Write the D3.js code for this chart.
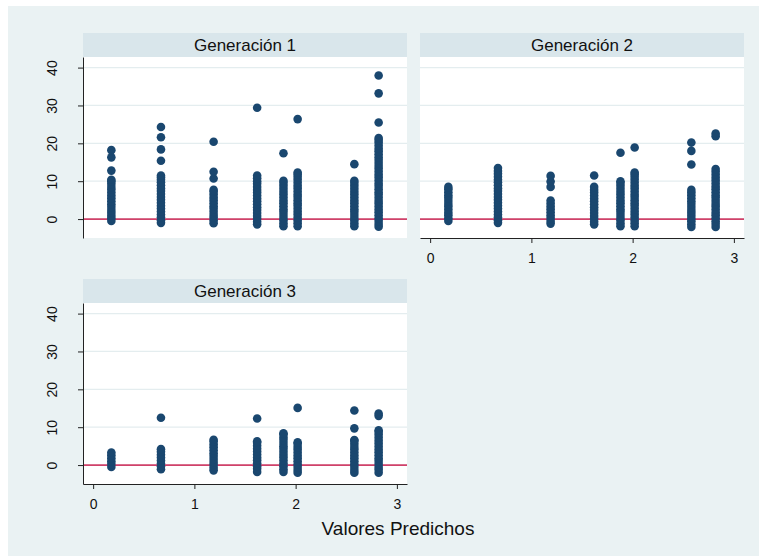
<!DOCTYPE html>
<html>
<head>
<meta charset="utf-8">
<script src="https://cdn.jsdelivr.net/npm/d3@7"></script>
<style>
  body { margin: 0; background: #fff; }
  svg { display: block; font-family: Arial, "Liberation Sans", sans-serif; }
  .axis path, .axis line { stroke: #222; }
  .axis text { fill: #111; font-size: 14px; font-family: Arial, "Liberation Sans", sans-serif; }
</style>
</head>
<body>
<div id="chart"></div>
<script>
// Predicted values (x columns) shared by every generation
const xCols = [0.18, 0.67, 1.19, 1.62, 1.88, 2.02, 2.58, 2.82]

// Residuals, one list per x column
const gen1 = [
  [-0.5, 0.2, 0.9, 1.7, 2.4, 3.2, 3.9, 4.7, 5.5, 6.2, 7.0, 7.8, 8.5, 9.3, 10.0, 10.4, 12.8, 16.3, 18.2],
  [-1.0, -0.3, 0.5, 1.2, 2.0, 2.8, 3.5, 4.3, 5.1, 5.8, 6.6, 7.4, 8.1, 8.9, 9.7, 10.4, 11.0, 11.5, 15.4, 18.4, 21.6, 24.3],
  [-1.1, -0.4, 0.4, 1.1, 1.9, 2.7, 3.4, 4.2, 5.0, 5.7, 6.5, 7.2, 7.7, 10.7, 12.5, 20.4],
  [-1.4, -0.7, 0.1, 0.8, 1.6, 2.4, 3.1, 3.9, 4.7, 5.4, 6.2, 7.0, 7.7, 8.5, 9.3, 10.0, 10.8, 11.5, 29.4],
  [-1.9, -1.2, -0.4, 0.3, 1.1, 1.9, 2.6, 3.4, 4.2, 4.9, 5.7, 6.5, 7.2, 8.0, 8.8, 9.5, 10.1, 17.4],
  [-1.9, -1.1, -0.4, 0.4, 1.2, 1.9, 2.7, 3.5, 4.2, 5.0, 5.8, 6.5, 7.3, 8.1, 8.8, 9.6, 10.4, 11.1, 11.8, 12.3, 26.4],
  [-1.9, -1.2, -0.4, 0.3, 1.1, 1.9, 2.6, 3.4, 4.2, 4.9, 5.7, 6.5, 7.2, 8.0, 8.8, 9.5, 10.1, 14.5],
  [-2.0, -1.3, -0.5, 0.2, 1.0, 1.8, 2.5, 3.3, 4.1, 4.8, 5.6, 6.4, 7.1, 7.9, 8.7, 9.4, 10.2, 11.0, 11.7, 12.5, 13.3, 14.0, 14.8, 15.6, 16.3, 17.1, 17.9, 18.6, 19.4, 20.2, 20.9, 21.4, 25.5, 33.2, 37.9]
]

const gen2 = [
  [-0.5, 0.2, 1.0, 1.7, 2.5, 3.3, 4.0, 4.8, 5.6, 6.3, 7.1, 7.9, 8.5],
  [-1.0, -0.3, 0.5, 1.2, 2.0, 2.8, 3.5, 4.3, 5.1, 5.8, 6.6, 7.4, 8.1, 8.9, 9.7, 10.4, 11.2, 12.0, 12.7, 13.5],
  [-1.2, -0.5, 0.3, 1.0, 1.8, 2.6, 3.3, 4.1, 4.9, 8.5, 9.9, 11.4],
  [-1.4, -0.7, 0.1, 0.8, 1.6, 2.4, 3.1, 3.9, 4.7, 5.4, 6.2, 7.0, 7.7, 8.5, 11.5],
  [-1.9, -1.2, -0.4, 0.3, 1.1, 1.9, 2.6, 3.4, 4.2, 4.9, 5.7, 6.5, 7.2, 8.0, 8.8, 9.5, 10.0, 17.5],
  [-1.9, -1.1, -0.4, 0.4, 1.2, 1.9, 2.7, 3.5, 4.2, 5.0, 5.8, 6.5, 7.3, 8.1, 8.8, 9.6, 10.4, 11.1, 11.8, 12.3, 18.9],
  [-2.1, -1.4, -0.6, 0.1, 0.9, 1.7, 2.4, 3.2, 4.0, 4.7, 5.5, 6.3, 7.0, 7.7, 14.4, 18.0, 20.2],
  [-2.1, -1.3, -0.6, 0.2, 1.0, 1.7, 2.5, 3.3, 4.0, 4.8, 5.6, 6.3, 7.1, 7.9, 8.6, 9.4, 10.2, 10.9, 11.7, 12.5, 13.2, 21.9, 22.6]
]

const gen3 = [
  [-0.5, 0.3, 1.0, 1.8, 2.6, 3.3],
  [-1.1, -0.3, 0.4, 1.2, 2.0, 2.7, 3.5, 4.2, 12.5],
  [-1.4, -0.7, 0.1, 0.8, 1.6, 2.4, 3.1, 3.9, 4.7, 5.4, 6.2, 6.7],
  [-1.8, -1.0, -0.3, 0.5, 1.3, 2.0, 2.8, 3.6, 4.3, 5.1, 5.9, 6.3, 12.3],
  [-1.8, -1.1, -0.3, 0.4, 1.2, 2.0, 2.7, 3.5, 4.3, 5.0, 5.8, 6.6, 7.3, 8.1, 8.4],
  [-2.0, -1.3, -0.5, 0.2, 1.0, 1.8, 2.5, 3.3, 4.1, 4.8, 5.6, 6.0, 15.1],
  [-2.0, -1.3, -0.5, 0.2, 1.0, 1.8, 2.5, 3.3, 4.1, 4.8, 5.6, 6.4, 6.6, 9.7, 14.4],
  [-2.0, -1.2, -0.5, 0.3, 1.1, 1.8, 2.6, 3.4, 4.1, 4.9, 5.7, 6.4, 7.2, 8.0, 8.7, 9.2, 13.0, 13.6]
]

const panelTitles = ['Generación 1', 'Generación 2', 'Generación 3']
const yTicks = [0, 10, 20, 30, 40]
const xTicks = [0, 1, 2, 3]
const xTitle = 'Valores Predichos'

const width = 759
const height = 556

const svg = d3.select('#chart').append('svg')
  .attr('width', width)
  .attr('height', height)

// Stata-like graph region
svg.append('rect')
  .attr('x', 8).attr('y', 6)
  .attr('width', width - 8).attr('height', height - 6)
  .attr('fill', '#eaf2f3')

// Panel placement (left, top of header) and which axes each one gets
const panels = [
  { title: panelTitles[0], data: gen1, left: 83, top: 33, showY: true, showX: false },
  { title: panelTitles[1], data: gen2, left: 420, top: 33, showY: false, showX: true },
  { title: panelTitles[2], data: gen3, left: 83, top: 279, showY: true, showX: true }
]
const pw = 324
const headerH = 24
const ph = 181

panels.forEach(p => {
  const top = p.top + headerH
  const x = d3.scaleLinear().domain([-0.1, 3.1]).range([p.left, p.left + pw])
  const y = d3.scaleLinear().domain([-5, 42.8]).range([top + ph, top])

  const g = svg.append('g')

  // header strip
  g.append('rect')
    .attr('x', p.left).attr('y', p.top)
    .attr('width', pw).attr('height', headerH)
    .attr('fill', '#d9e6eb')
  g.append('text')
    .attr('x', p.left + pw / 2)
    .attr('y', p.top + 18)
    .attr('text-anchor', 'middle')
    .attr('font-size', 17)
    .attr('fill', '#111')
    .text(p.title)

  // plot region
  g.append('rect')
    .attr('x', p.left).attr('y', top)
    .attr('width', pw).attr('height', ph)
    .attr('fill', '#fff')

  // gridlines
  g.selectAll('.grid')
    .data(yTicks)
    .enter()
    .append('line')
    .attr('x1', p.left).attr('x2', p.left + pw)
    .attr('y1', d => y(d)).attr('y2', d => y(d))
    .attr('stroke', '#e4edef')
    .attr('stroke-width', 1.2)

  // reference line at zero
  g.append('line')
    .attr('x1', p.left).attr('x2', p.left + pw)
    .attr('y1', y(0)).attr('y2', y(0))
    .attr('stroke', '#d0416a')
    .attr('stroke-width', 1.7)

  // points: flatten [xCol, value] pairs
  const pts = []
  p.data.forEach((col, i) => col.forEach(v => pts.push([xCols[i], v])))
  g.selectAll('circle')
    .data(pts)
    .enter()
    .append('circle')
    .attr('cx', d => x(d[0]))
    .attr('cy', d => y(d[1]))
    .attr('r', 4.3)
    .attr('fill', '#1a476f')

  if (p.showY) {
    const ax = g.append('g')
      .attr('class', 'axis')
      .attr('transform', `translate(${p.left},0)`)
      .call(d3.axisLeft(y).tickValues(yTicks).tickSize(5).tickSizeOuter(0).tickFormat(d3.format('d')))
    ax.selectAll('text')
      .attr('transform', 'rotate(-90)')
      .attr('x', 0)
      .attr('y', -26)
      .attr('dy', 0)
      .attr('text-anchor', 'middle')
  }

  if (p.showX) {
    g.append('g')
      .attr('class', 'axis')
      .attr('transform', `translate(0,${top + ph})`)
      .call(d3.axisBottom(x).tickValues(xTicks).tickSize(5).tickSizeOuter(0).tickPadding(10).tickFormat(d3.format('d')))
  }
})

// x-axis title
svg.append('text')
  .attr('x', 398)
  .attr('y', 535)
  .attr('text-anchor', 'middle')
  .attr('font-size', 19)
  .attr('fill', '#111')
  .text(xTitle)
</script>
</body>
</html>
